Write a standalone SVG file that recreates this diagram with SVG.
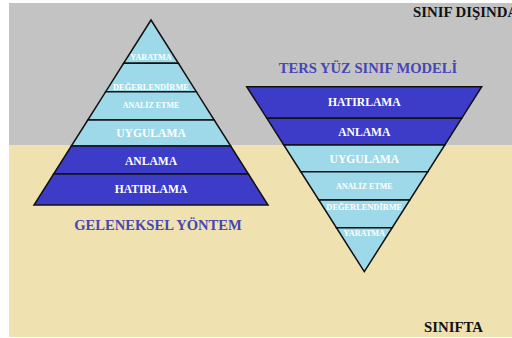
<svg xmlns="http://www.w3.org/2000/svg" width="512" height="338" viewBox="0 0 512 338">
<style>
.dark{fill:#3C3CC8;stroke:#111;stroke-width:1.5;stroke-linejoin:miter}
.light{fill:#9DD9E8;stroke:#111;stroke-width:1.5;stroke-linejoin:miter}
.t{font-family:"Liberation Serif","Times New Roman",serif;font-weight:bold;fill:#FFFFFF;text-anchor:middle}
.big{font-size:11.6px}
.s1{font-size:8.2px}
.s2{font-size:8px}
.s3{font-size:8.4px}
.title{font-family:"Liberation Serif","Times New Roman",serif;font-weight:bold;fill:#4646B4;text-anchor:middle;font-size:14.6px}
.zone{font-family:"Liberation Serif","Times New Roman",serif;font-weight:bold;fill:#111;font-size:14.8px}
</style>
<rect x="0" y="0" width="512" height="338" fill="#FFFFFF"/>
<rect x="9" y="3" width="503" height="142" fill="#C3C3C3"/>
<rect x="9" y="145" width="503" height="192" fill="#EFE1B0"/>
<g id="zone-labels">
<text class="zone" x="413" y="17">SINIF DIŞINDA</text>
<text class="zone" x="424" y="332">SINIFTA</text>
</g>
<g id="traditional-pyramid">
<polygon class="light" points="151,20 178.4,63.3 123.6,63.3"/>
<polygon class="light" points="123.6,63.3 178.4,63.3 196.3,91.7 105.7,91.7"/>
<polygon class="light" points="105.7,91.7 196.3,91.7 214.2,120 87.8,120"/>
<polygon class="light" points="87.8,120 214.2,120 230.7,146 71.3,146"/>
<polygon class="dark" points="71.3,146 230.7,146 248.4,174 53.6,174"/>
<polygon class="dark" points="53.6,174 248.4,174 268,205 34,205"/>
<text class="t s1" x="151" y="60">YARATMA</text>
<text class="t s3" x="151" y="89.7">DEĞERLENDİRME</text>
<text class="t s2" x="151" y="107.8">ANALİZ ETME</text>
<text class="t big" x="151" y="137.2">UYGULAMA</text>
<text class="t big" x="151" y="165.2">ANLAMA</text>
<text class="t big" x="151" y="193.2">HATIRLAMA</text>
</g>
<g id="traditional-title">
<text class="title" x="158" y="230">GELENEKSEL YÖNTEM</text>
</g>
<g id="flipped-title">
<text class="title" x="368" y="72.5">TERS YÜZ SINIF MODELİ</text>
</g>
<g id="flipped-pyramid">
<polygon class="dark" points="246.7,86.7 481.7,86.7 461.7,118.3 266.9,118.3"/>
<polygon class="dark" points="266.9,118.3 461.7,118.3 444.8,145 283.8,145"/>
<polygon class="light" points="283.8,145 444.8,145 427.8,171.7 300.8,171.7"/>
<polygon class="light" points="300.8,171.7 427.8,171.7 409.8,200 318.8,200"/>
<polygon class="light" points="318.8,200 409.8,200 392.2,227.7 336.4,227.7"/>
<polygon class="light" points="336.4,227.7 392.2,227.7 364.3,271.7"/>
<text class="t big" x="364.3" y="105.7">HATIRLAMA</text>
<text class="t big" x="364.3" y="135.7">ANLAMA</text>
<text class="t big" x="364.3" y="163.4">UYGULAMA</text>
<text class="t s2" x="364.3" y="188.8">ANALİZ ETME</text>
<text class="t s3" x="364.3" y="209.6">DEĞERLENDİRME</text>
<text class="t s1" x="364.3" y="236.2">YARATMA</text>
</g>
<g id="connectors"/>
</svg>
